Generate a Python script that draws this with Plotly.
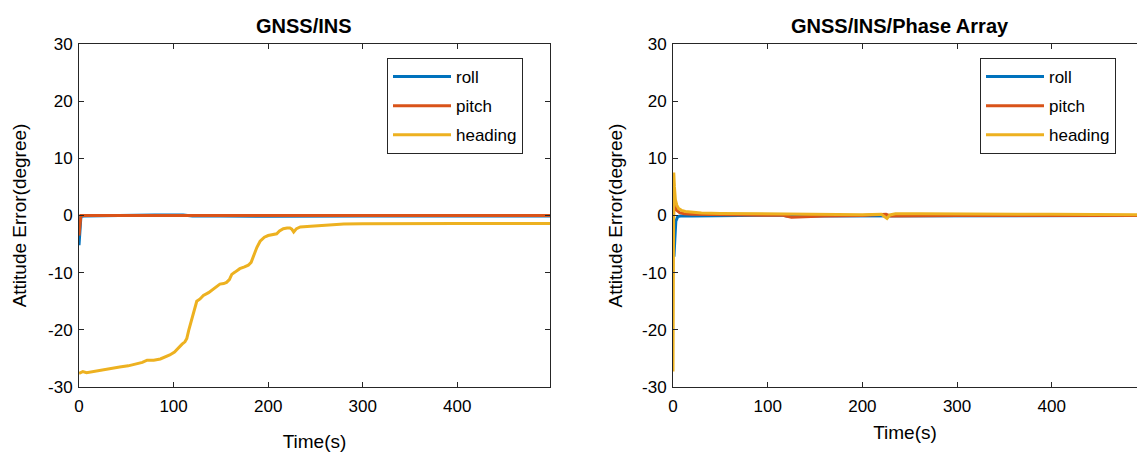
import plotly.graph_objects as go

# ---- GNSS/INS attitude errors (degree) ----
t_ins_roll = [0, 1, 2, 5, 20, 50, 80, 110, 120, 150, 200, 300, 400, 498]
ins_roll = [-5.2, -3.0, -0.2, -0.1, -0.05, 0.05, 0.1, 0.1, -0.1, -0.1, -0.15, -0.1, -0.1, -0.1]

t_ins_pitch = [0, 1, 2, 5, 50, 100, 200, 300, 498]
ins_pitch = [-3.5, -2.0, 0.0, 0.0, 0.0, 0.0, 0.0, 0.0, 0.0]

t_ins_heading = [0, 4, 8, 15, 20, 26, 33, 43, 52, 61, 67, 72, 79, 86, 91, 96, 101, 105,
                 109, 112, 114, 116, 119, 121, 124.5, 128, 131.5, 137, 142, 146, 149, 153,
                 156, 159, 161.5, 165, 170, 175, 179, 182, 184.5, 188, 191.5, 196, 200,
                 204, 209, 212, 216, 220, 223, 225, 227, 230, 234, 245, 255, 268, 280,
                 300, 350, 400, 498]
ins_heading = [-27.6, -27.3, -27.5, -27.3, -27.1, -26.9, -26.8, -26.5, -26.3, -25.9, -25.7,
               -25.3, -25.3, -25.1, -24.8, -24.4, -23.9, -23.1, -22.5, -22.1, -21.5, -20.1,
               -18.3, -17.5, -15.0, -14.6, -14.0, -13.5, -12.9, -12.4, -12.0, -11.9, -11.7,
               -11.2, -10.3, -9.9, -9.3, -9.0, -8.7, -8.2, -7.1, -5.6, -4.5, -3.8, -3.5,
               -3.4, -3.2, -2.7, -2.3, -2.2, -2.2, -2.4, -2.9, -2.3, -2.0, -1.9, -1.75,
               -1.6, -1.5, -1.45, -1.4, -1.4, -1.4]

# ---- GNSS/INS/Phase Array attitude errors (degree) ----
t_pa_roll = [0, 1, 2, 3, 5, 8, 20, 100, 115, 120, 200, 300, 490]
pa_roll = [-2.0, -7.2, -4.0, -1.0, -0.2, -0.1, -0.1, 0.0, 0.1, -0.1, -0.1, -0.05, 0.0]

t_pa_pitch = [0, 1, 2, 4, 7, 12, 20, 50, 100, 115, 125, 160, 200, 225, 230, 300, 490]
pa_pitch = [-5.0, 2.5, 1.6, 0.9, 0.5, 0.3, 0.2, 0.1, 0.05, 0.1, -0.3, -0.1, 0.0, 0.2, -0.1, 0.0, 0.0]

t_pa_heading = [0, 0.8, 1.5, 2.5, 4, 6, 9, 13, 20, 30, 50, 80, 110, 130, 160, 200,
                220, 226, 229, 235, 260, 300, 400, 490]
pa_heading = [-27.3, 7.5, 5.0, 2.8, 1.8, 1.2, 0.9, 0.7, 0.55, 0.45, 0.35, 0.3, 0.25, 0.2,
              0.2, 0.15, 0.2, -0.5, 0.1, 0.3, 0.3, 0.25, 0.2, 0.15]

y_ticks = [-30, -20, -10, 0, 10, 20, 30]
y_tick_text = ["-30", "-20", "-10", "0", "10", "20", "30"]
x_ticks = [0, 100, 200, 300, 400]

C_ROLL = "#0072BD"
C_PITCH = "#D95319"
C_HEADING = "#EDB120"

W, H = 1137, 455
FONT = "Liberation Sans, Arial, sans-serif"

fig = go.Figure()

def add_series(t, v, name, color, xa, ya, legend):
    fig.add_trace(go.Scatter(
        x=t, y=v, mode="lines", name=name, xaxis=xa, yaxis=ya,
        line=dict(color=color, width=3), legend=legend, legendgroup=legend + name,
    ))

add_series(t_ins_roll, ins_roll, "roll", C_ROLL, "x", "y", "legend")
add_series(t_ins_pitch, ins_pitch, "pitch", C_PITCH, "x", "y", "legend")
add_series(t_ins_heading, ins_heading, "heading", C_HEADING, "x", "y", "legend")

add_series(t_pa_roll, pa_roll, "roll", C_ROLL, "x2", "y2", "legend2")
add_series(t_pa_pitch, pa_pitch, "pitch", C_PITCH, "x2", "y2", "legend2")
add_series(t_pa_heading, pa_heading, "heading", C_HEADING, "x2", "y2", "legend2")

y_dom = [1 - 387 / H, 1 - 44 / H]
x1_dom = [79 / W, 550 / W]
x2_dom = [673 / W, 1.0]

axis_common = dict(
    showgrid=False, zeroline=False, showline=True, linecolor="#262626", linewidth=1,
    ticks="inside", ticklen=5, tickcolor="#262626", automargin=False,
    tickfont=dict(family=FONT, size=17, color="#000000"),
)

title_font = dict(family=FONT, size=19, color="#000000")

legend_common = dict(
    bgcolor="white", bordercolor="#262626", borderwidth=1,
    font=dict(family=FONT, size=17, color="#000000"),
    traceorder="grouped", tracegroupgap=4, itemwidth=58,
    entrywidth=88, entrywidthmode="pixels",
    xanchor="left", yanchor="top",
)

fig.update_layout(
    width=W, height=H, margin=dict(l=0, r=0, t=0, b=0, autoexpand=False),
    paper_bgcolor="white", plot_bgcolor="white", showlegend=True,
    xaxis=dict(domain=x1_dom, range=[0, 498], tickvals=x_ticks, mirror="ticks",
               anchor="y", ticklabelstandoff=4,
               title=dict(text="Time(s)", font=title_font, standoff=19),
               **axis_common),
    yaxis=dict(domain=y_dom, range=[-30, 30], tickvals=y_ticks, ticktext=y_tick_text,
               mirror="ticks", anchor="x", ticklabelstandoff=2,
               title=dict(text="Attitude Error(degree)", font=title_font, standoff=16),
               **axis_common),
    xaxis2=dict(domain=x2_dom, range=[0, 490], tickvals=x_ticks, mirror="ticks",
                anchor="y2", ticklabelstandoff=4,
                title=dict(text="Time(s)", font=title_font, standoff=10),
                **axis_common),
    yaxis2=dict(domain=y_dom, range=[-30, 30], tickvals=y_ticks, ticktext=y_tick_text,
                mirror=False, anchor="x2", ticklabelstandoff=2,
                title=dict(text="Attitude Error(degree)", font=title_font, standoff=14),
                **axis_common),
    legend=dict(x=387 / W, y=1 - 58 / H, **legend_common),
    legend2=dict(x=980 / W, y=1 - 58 / H, **legend_common),
    annotations=[
        dict(text="<b>GNSS/INS</b>", x=304 / W, y=1 - 26 / H,
             xref="paper", yref="paper", showarrow=False, xanchor="center", yanchor="middle",
             font=dict(family=FONT, size=20, color="#000000")),
        dict(text="<b>GNSS/INS/Phase Array</b>", x=900 / W, y=1 - 26 / H,
             xref="paper", yref="paper", showarrow=False, xanchor="center", yanchor="middle",
             font=dict(family=FONT, size=20, color="#000000")),
    ],
)

fig.write_html("out.html")
